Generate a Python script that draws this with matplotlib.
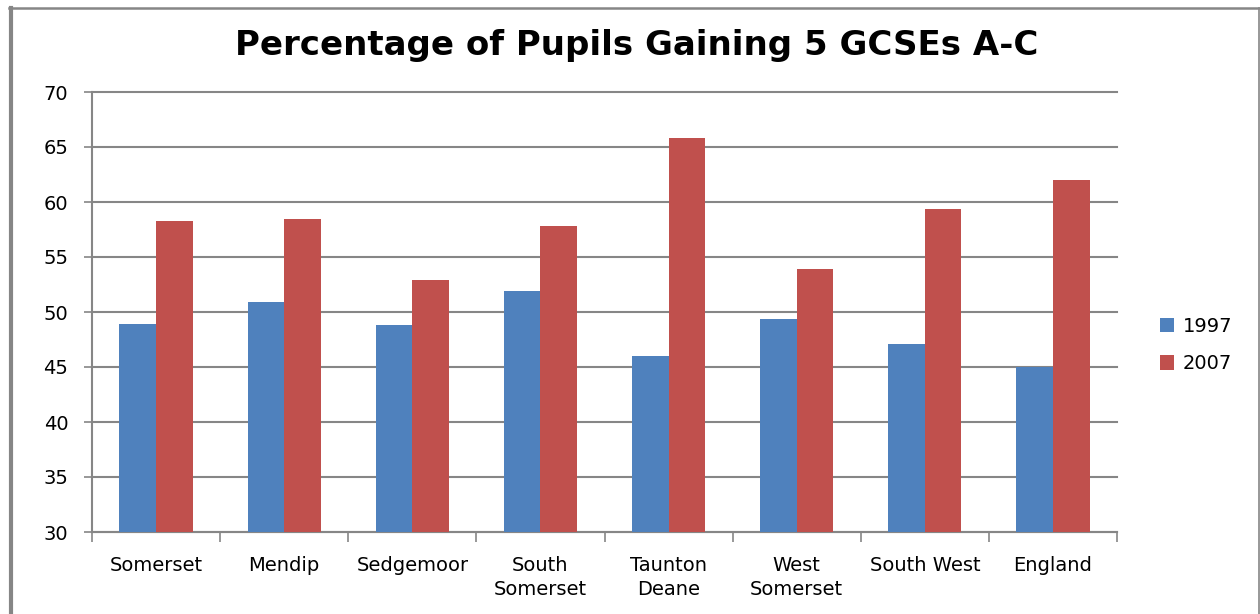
import matplotlib
matplotlib.use("Agg")
import matplotlib.pyplot as plt
import numpy as np
from matplotlib.lines import Line2D
from matplotlib.patches import Patch

areas = ["Somerset", "Mendip", "Sedgemoor", "South\nSomerset", "Taunton\nDeane",
         "West\nSomerset", "South West", "England"]
pct_1997 = [48.9, 50.9, 48.8, 51.9, 46.0, 49.4, 47.1, 45.0]
pct_2007 = [58.3, 58.5, 52.9, 57.8, 65.8, 53.9, 59.4, 62.0]
years = ["1997", "2007"]

BLUE = "#4F81BD"
RED = "#C0504D"
GREY = "#868686"

fig = plt.figure(figsize=(12.6, 6.14), dpi=100)
ax = fig.add_axes([92 / 1260, 1 - 532 / 614, (1117 - 92) / 1260, (532 - 92) / 614])

x = np.arange(len(areas))
w = 1 / 3.5  # 150% gap between groups
ax.bar(x - w / 2, pct_1997, w, color=BLUE, zorder=3)
ax.bar(x + w / 2, pct_2007, w, color=RED, zorder=3)

ax.set_xlim(-0.5, len(areas) - 0.5)
ax.set_ylim(30, 70)
ax.set_yticks(np.arange(30, 71, 5))
ax.yaxis.grid(True, color=GREY, linewidth=1.5, zorder=0)
for gl in ax.get_ygridlines():
    gl.set_clip_on(False)

ax.set_xticks(x)
ax.set_xticklabels(areas, fontsize=14, linespacing=1.35)
ax.set_xticks(np.arange(-0.5, len(areas)), minor=True)
ax.tick_params(axis="x", which="major", length=0, pad=17)
ax.tick_params(axis="x", which="minor", length=7, width=1.2, color=GREY)
ax.tick_params(axis="y", length=6, width=1.2, color=GREY, labelsize=14, pad=11)

for side in ["top", "right"]:
    ax.spines[side].set_visible(False)
for side in ["left", "bottom"]:
    ax.spines[side].set_color(GREY)
    ax.spines[side].set_linewidth(1.5)

fig.text(0.505, 1 - 45 / 614, "Percentage of Pupils Gaining 5 GCSEs A-C",
         ha="center", va="center", fontsize=24.5, fontweight="bold")

handles = [Patch(facecolor=BLUE), Patch(facecolor=RED)]
fig.legend(handles, years, loc="center left", bbox_to_anchor=(1142 / 1260, 1 - 345 / 614),
           frameon=False, fontsize=14, handlelength=0.75, handleheight=0.75,
           handletextpad=0.45, labelspacing=0.95)

# chart frame
fig.add_artist(Line2D([10.5 / 1260, 10.5 / 1260], [0, 1 - 7.5 / 614], color=GREY, linewidth=3,
                      transform=fig.transFigure))
fig.add_artist(Line2D([9 / 1260, 1258.5 / 1260], [1 - 7.5 / 614, 1 - 7.5 / 614], color=GREY,
                      linewidth=1.8, transform=fig.transFigure))
fig.add_artist(Line2D([1258.5 / 1260, 1258.5 / 1260], [0, 1 - 7.5 / 614], color=GREY,
                      linewidth=1.2, transform=fig.transFigure))

fig.savefig("out.png", dpi=100)
